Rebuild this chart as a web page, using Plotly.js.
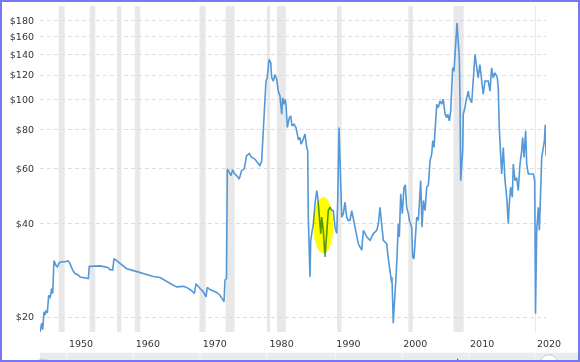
<!DOCTYPE html>
<html>
<head>
<meta charset="utf-8">
<script src="https://cdn.plot.ly/plotly-3.0.1.min.js"></script>
<style>
  html, body { margin: 0; padding: 0; background: #fff; }
  #wrap { position: relative; width: 580px; height: 362px; overflow: hidden; background: #fff; }
  #chart { position: absolute; left: 0; top: 0; width: 580px; height: 362px; }
  #frame { position: absolute; left: 0; top: 0; width: 580px; height: 362px; box-sizing: border-box;
           border: 2px solid #7878f4; pointer-events: none; }
  .layer-above, .layer-above .shapelayer, .layer-above .shapelayer path { mix-blend-mode: multiply; }
</style>
</head>
<body>
<div id="wrap"><div id="chart"></div><div id="frame"></div></div>
<script>
// Crude oil price (inflation adjusted), decimal years
const years = [
  1946.11,1946.37,1946.51,1946.71,1946.86,1947.01,1947.2,1947.41,1947.61,1947.86,
  1948.01,1948.1,1948.2,1948.5,1948.7,1949.0,1949.36,1949.85,1950.34,1950.6,
  1951.0,1951.35,1951.84,1952.09,1952.84,1953.34,1953.48,1954.08,1955.09,1955.83,
  1956.33,1956.58,1956.98,1957.18,1957.58,1957.97,1958.33,1958.67,1959.08,1959.83,
  1960.57,1961.07,1962.07,1963.06,1964.06,1964.46,1965.06,1966.05,1966.55,1967.05,
  1967.54,1968.05,1968.8,1969.2,1969.44,1970.04,1970.54,1970.94,1971.13,1971.54,
  1972.03,1972.54,1973.03,1973.43,1973.63,1973.78,1974.0,1974.13,1974.43,1974.68,
  1974.93,1975.17,1975.5,1975.9,1976.26,1976.66,1977.0,1977.4,1977.77,1978.26,
  1978.6,1979.0,1979.26,1979.4,1979.51,1979.76,1979.91,1980.1,1980.26,1980.36,
  1980.62,1980.77,1981.0,1981.26,1981.51,1981.75,1982.0,1982.16,1982.26,1982.41,
  1982.6,1982.75,1982.9,1983.1,1983.4,1983.6,1983.8,1984.1,1984.4,1984.5,
  1984.74,1985.0,1985.15,1985.4,1985.6,1985.75,1986.0,1986.15,1986.24,1986.39,
  1986.49,1986.6,1986.75,1986.99,1987.24,1987.5,1987.65,1987.84,1988.1,1988.24,
  1988.48,1988.74,1988.99,1989.23,1989.49,1989.74,1989.98,1990.23,1990.49,1990.64,
  1990.83,1990.98,1991.24,1991.48,1991.73,1991.98,1992.22,1992.48,1992.73,1993.22,
  1993.72,1994.23,1994.47,1994.98,1995.47,1995.97,1996.48,1996.72,1996.96,1997.46,
  1997.97,1998.2,1998.46,1998.7,1998.75,1998.88,1998.95,1999.05,1999.2,1999.33,
  1999.5,1999.7,1999.85,2000.06,2000.3,2000.55,2000.75,2000.85,2000.95,2001.2,
  2001.35,2001.7,2001.85,2002.05,2002.2,2002.45,2002.7,2002.85,2003.05,2003.25,
  2003.45,2003.7,2003.95,2004.2,2004.45,2004.7,2004.85,2005.04,2005.19,2005.45,
  2005.68,2005.94,2006.19,2006.43,2006.69,2006.94,2007.1,2007.33,2007.54,2007.69,
  2007.83,2008.03,2008.18,2008.33,2008.48,2008.63,2008.82,2008.93,2009.03,2009.33,
  2009.42,2009.67,2009.82,2010.17,2010.32,2010.53,2010.68,2011.17,2011.4,2011.65,
  2011.9,2012.4,2012.66,2013.15,2013.41,2013.66,2013.9,2014.16,2014.5,2014.65,
  2014.8,2014.91,2015.16,2015.4,2015.66,2015.91,2016.15,2016.3,2016.5,2016.75,
  2016.9,2017.15,2017.4,2017.64,2017.9,2018.15,2018.3,2018.5,2018.75,2018.9,
  2019.15,2019.9,2020.1,2020.15,2020.22,2020.4,2020.64,2020.8,2021.0,2021.15,
  2021.55,2021.68,2021.79
];
const prices = [
  17.9,19.1,18.2,20.8,20.3,21.0,20.6,23.5,23.0,24.7,
  23.8,28.3,30.4,29.3,29.0,29.9,30.1,30.1,30.3,29.7,
  28.3,27.6,27.3,26.9,26.8,26.6,29.1,29.1,29.2,29.0,
  28.8,28.4,28.3,30.8,30.3,29.9,29.3,29.0,28.6,28.3,
  28.0,27.7,27.4,27.0,26.8,26.5,25.9,25.3,25.0,25.1,
  25.1,24.9,24.3,23.8,25.6,24.7,24.1,23.2,24.9,24.5,
  24.3,24.0,23.5,22.8,22.4,26.3,26.6,59.9,58.4,57.0,
  59.5,58.0,57.0,55.6,59.1,59.9,66.0,67.2,65.2,64.4,
  62.9,61.4,63.5,72.0,79.4,99.1,114.8,117.6,133.0,134.7,
  131.4,117.6,114.8,120.6,116.2,106.6,102.8,96.7,89.8,101.5,
  96.7,100.3,96.7,81.4,87.6,88.7,82.4,83.4,81.4,79.4,
  74.7,75.5,72.0,73.8,75.5,77.5,70.2,68.5,41.9,29.0,
  26.9,35.3,37.1,39.9,46.3,51.0,48.6,44.0,37.1,41.9,
  38.0,31.2,38.0,44.0,45.1,44.0,44.0,38.9,37.1,47.4,
  81.4,60.6,41.9,43.0,46.8,41.9,40.9,40.9,44.0,38.9,
  34.4,32.8,38.0,36.2,35.3,37.1,38.0,39.9,45.1,35.3,
  34.4,30.8,27.6,25.8,26.9,22.6,19.1,21.0,23.2,26.3,
  30.8,39.9,36.2,49.8,43.0,52.3,53.2,48.6,45.1,43.0,
  40.9,38.9,31.2,30.8,34.4,41.9,40.9,46.3,54.9,38.9,
  47.4,44.0,52.3,53.2,63.6,66.9,73.8,70.2,79.4,96.7,
  94.3,99.1,96.7,100.3,89.8,87.6,89.8,85.5,92.0,112.0,
  126.6,123.6,136.3,157.9,176.4,157.9,136.3,99.1,54.9,68.5,
  89.8,94.3,99.1,106.6,101.5,99.1,97.8,139.8,126.6,117.6,
  129.8,104.1,114.8,114.8,106.6,126.6,117.6,122.0,118.0,109.3,
  81.4,70.2,57.7,70.2,54.9,48.6,39.9,46.3,52.3,48.6,
  62.1,54.9,56.1,51.0,62.1,68.5,75.5,65.2,79.4,62.1,
  57.7,57.7,55.0,38.0,20.5,38.0,45.1,38.0,48.6,65.2,
  73.8,83.0,66.0
];
// US recessions (decimal years)
const recessionStart = [1948.9,1953.54,1957.62,1960.29,1969.96,1973.88,1980.04,1981.54,1990.54,2001.21,2007.96,2020.13];
const recessionEnd   = [1949.8,1954.38,1958.29,1961.12,1970.88,1975.21,1980.54,1982.88,1991.21,2001.88,2009.46,2020.29];
// Highlighted period (yellow marker)
const highlightYears = [1986.99, 1989.98];
const highlightPrices = [32.0, 48.6];
const yTicks = [20,40,60,80,100,120,140,160,180];
const xTicks = [1950,1960,1970,1980,1990,2000,2010,2020];

const shapes = [];
for (let i = 0; i < recessionStart.length; i++) {
  shapes.push({type:'rect', xref:'x', yref:'paper', x0:recessionStart[i], x1:recessionEnd[i], y0:0, y1:1,
    fillcolor:'#e8e8e8', line:{width:0}, layer:'below'});
}
shapes.push({type:'circle', xref:'x', yref:'y', x0:highlightYears[0], x1:highlightYears[1],
  y0:highlightPrices[0], y1:highlightPrices[1], fillcolor:'#ffff00', line:{width:0}, layer:'above'});

// navigator strip decoration
const navShapes = [
  {type:'rect', xref:'paper', yref:'paper', x0:0, x1:1.07, y0:-0.0635, y1:-0.095, fillcolor:'#ebebeb', line:{width:0}, layer:'below'}
];
[0.0528,0.1844,0.3162,0.4480,0.5837,0.7154,0.8472,0.9783].forEach(p => navShapes.push(
  {type:'line', xref:'paper', yref:'paper', x0:p, x1:p, y0:-0.0635, y1:-0.095, line:{color:'#f7f7f7', width:1}, layer:'below'}));
navShapes.push({type:'circle', xref:'paper', yref:'paper', x0:-0.0119, x1:0.0237, y0:-0.083, y1:-0.135, fillcolor:'#ffffff', line:{color:'#c8c8c8', width:1}, layer:'below'});
navShapes.push({type:'circle', xref:'paper', yref:'paper', x0:0.9881, x1:1.0237, y0:-0.07, y1:-0.125, fillcolor:'#ffffff', line:{color:'#c8c8c8', width:1}, layer:'below'});
navShapes.push({type:'path', xref:'paper', yref:'paper', path:'M 0.8229 -0.0905 L 0.8281 -0.0905 L 0.8255 -0.0798 Z', fillcolor:'#555', line:{width:0}, layer:'below'});

const trace = {
  x: years, y: prices, type:'scatter', mode:'lines',
  line:{color:'#5598d8', width:1.6}, hoverinfo:'skip'
};

const layout = {
  width:580, height:362,
  margin:{l:40, r:34, t:6, b:30, pad:0},
  paper_bgcolor:'#ffffff', plot_bgcolor:'#ffffff',
  showlegend:false,
  font:{family:'DejaVu Sans, Verdana, sans-serif', size:9.5, color:'#333333'},
  xaxis:{
    type:'linear', range:[1946.11, 2021.79],
    tickvals:xTicks, ticktext:xTicks.map(String),
    showgrid:false, zeroline:false, showline:false, ticks:'',
    ticklabelshift:15, ticklabelstandoff:4,
    tickfont:{family:'DejaVu Sans, Verdana, sans-serif', size:9.5, color:'#333333'}
  },
  yaxis:{
    type:'log', range:[1.2528, 2.3014],
    tickvals:yTicks, ticktext:yTicks.map(v => '$' + v),
    showgrid:true, gridcolor:'#dddddd', gridwidth:1, griddash:'4px,3px',
    zeroline:false, showline:false, ticks:'', ticklabelstandoff:5,
    tickfont:{family:'DejaVu Sans, Verdana, sans-serif', size:9.5, color:'#333333'}
  },
  shapes: shapes.concat(navShapes)
};

Plotly.newPlot('chart', [trace], layout, {displayModeBar:false, staticPlot:true}).then(() => {
  // make the highlighter blend with the line beneath it
  document.querySelectorAll('#chart .layer-above .shapelayer path').forEach(p => {
    p.style.mixBlendMode = 'multiply';
  });
});
</script>
</body>
</html>
